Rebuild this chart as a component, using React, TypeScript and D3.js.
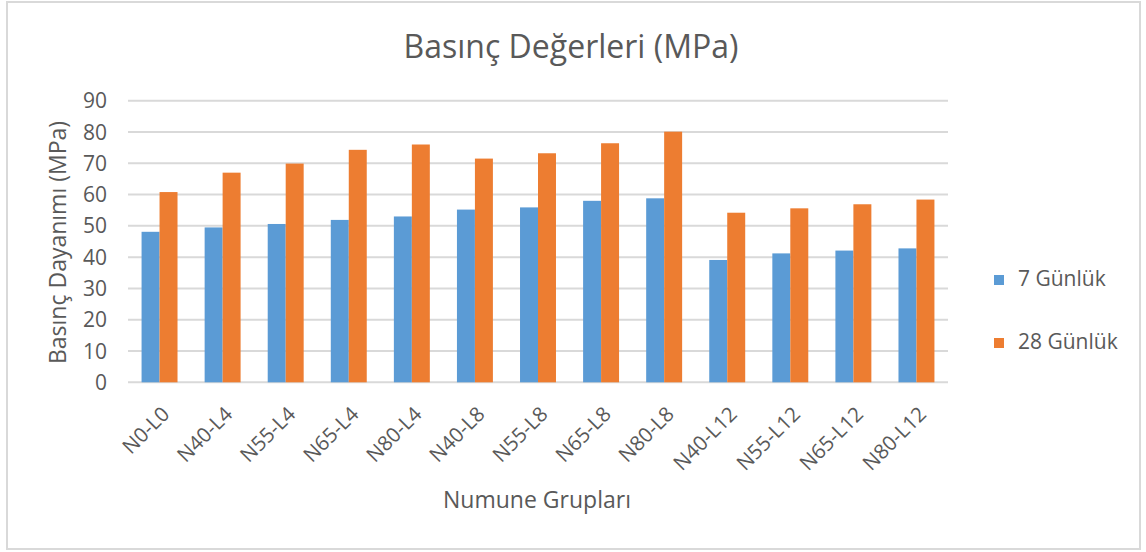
import React from "react";
import * as d3 from "d3";

const categories = ["N0-L0","N40-L4","N55-L4","N65-L4","N80-L4","N40-L8","N55-L8","N65-L8","N80-L8","N40-L12","N55-L12","N65-L12","N80-L12"];
const series7 = [48.1,49.5,50.6,51.9,53.0,55.2,55.9,58.0,58.8,39.1,41.2,42.1,42.8];
const series28 = [60.8,67.0,69.9,74.3,76.0,71.5,73.2,76.4,80.1,54.2,55.6,56.9,58.4];
const seriesNames = ["7 Günlük","28 Günlük"];
const colors = ["#5B9BD5","#ED7D31"];
const yTicks = [0,10,20,30,40,50,60,70,80,90];

const W = 1146, H = 552;
const plot = { left: 128, right: 948, top: 100.7, bottom: 382.3 };
const font = "'Open Sans', 'Noto Sans', sans-serif";
const textColor = "#595959";

export default function App() {
  const x0 = d3.scaleBand<string>().domain(categories).range([plot.left, plot.right]).paddingInner(0.43).paddingOuter(0.215);
  const x1 = d3.scaleBand<string>().domain(seriesNames).range([0, x0.bandwidth()]).padding(0);
  const y = d3.scaleLinear().domain([0, 90]).range([plot.bottom, plot.top]);
  const data = [series7, series28];

  return (
    <svg width={W} height={H} style={{ position: "absolute", left: 0, top: 0, background: "#fff" }} fontFamily={font}>
      <rect x={7} y={2} width={1133} height={547} fill="#fff" stroke="#d9d9d9" strokeWidth={2} />
      <text x={571} y={58} textAnchor="middle" fontSize={32} fill={textColor}>Basınç Değerleri (MPa)</text>
      {yTicks.map(t => (
        <g key={t}>
          <line x1={plot.left} x2={plot.right} y1={y(t)} y2={y(t)} stroke="#d9d9d9" strokeWidth={2} />
          <text x={107} y={y(t)} dy="0.36em" textAnchor="end" fontSize={21} fill={textColor}>{t}</text>
        </g>
      ))}
      {categories.map((c, i) => (
        <g key={c}>
          {data.map((s, j) => (
            <rect key={j} x={(x0(c) as number) + (x1(seriesNames[j]) as number)} y={y(s[i])}
              width={x1.bandwidth()} height={y(0) - y(s[i])} fill={colors[j]} />
          ))}
          <text transform={`translate(${(x0(c) as number) + x0.bandwidth() / 2 + 1},${plot.bottom + 23}) rotate(-45)`}
            textAnchor="end" dy="0.7em" fontSize={20.5} fill={textColor}>{c}</text>
        </g>
      ))}
      <text transform={`translate(66,${(plot.top + plot.bottom) / 2 + 1}) rotate(-90)`} textAnchor="middle" fontSize={23} fill={textColor}>Basınç Dayanımı (MPa)</text>
      <text x={537} y={508} textAnchor="middle" fontSize={23} fill={textColor}>Numune Grupları</text>
      {seriesNames.map((n, j) => (
        <g key={n}>
          <rect x={994} y={275 + j * 63} width={10} height={10} fill={colors[j]} />
          <text x={1018} y={285.5 + j * 63} fontSize={21} fill={textColor}>{n}</text>
        </g>
      ))}
    </svg>
  );
}
